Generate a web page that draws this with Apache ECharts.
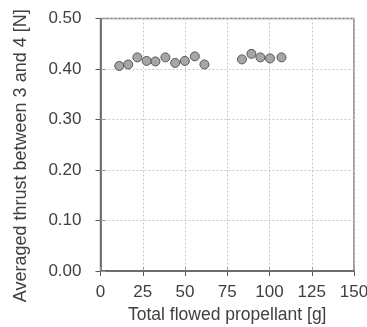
<!DOCTYPE html>
<html>
<head>
<meta charset="utf-8">
<script src="https://cdn.jsdelivr.net/npm/echarts@6/dist/echarts.min.js"></script>
<style>
  html, body { margin: 0; padding: 0; background: #fff; }
  #chart { width: 367px; height: 327px; }
</style>
</head>
<body>
<div id="chart"></div>
<script>
// propellant [g] and averaged thrust [N]
const propellant = [11.1, 16.4, 21.8, 27.3, 32.5, 38.4, 44.2, 49.9, 55.8, 61.5, 83.7, 89.3, 94.6, 100.3, 107.1];
const thrust = [0.406, 0.409, 0.423, 0.416, 0.415, 0.423, 0.412, 0.416, 0.425, 0.409, 0.419, 0.430, 0.423, 0.421, 0.423];
const xTicks = [0, 25, 50, 75, 100, 125, 150];
const yTicks = [0, 0.1, 0.2, 0.3, 0.4, 0.5];

const textColor = '#404040';
const axisColor = '#595959';
const font = 'Liberation Sans, Arial, sans-serif';

var myChart = echarts.init(document.getElementById('chart'));
var pts = propellant.map((x, i) => [x, thrust[i]]);

var option = {
  animation: false,
  grid: {
    left: 100.5,
    right: 13,
    top: 18.5,
    bottom: 56,
    outerBoundsMode: 'none',
    containLabel: false,
    show: true,
    borderColor: '#7f7f7f',
    borderWidth: 1.5
  },
  xAxis: [
    {
      type: 'value',
      min: xTicks[0],
      max: xTicks[xTicks.length - 1],
      interval: 25,
      name: 'Total flowed propellant [g]',
      nameLocation: 'middle',
      nameGap: 35,
      nameTextStyle: { color: textColor, fontSize: 17.5, fontFamily: font },
      axisLine: { lineStyle: { color: axisColor, width: 1.5 } },
      axisTick: { length: 5, lineStyle: { color: axisColor } },
      axisLabel: { color: textColor, fontSize: 17, fontFamily: font, margin: 13 },
      splitLine: { show: true, lineStyle: { color: '#c8c8c8', type: [2, 2], width: 1 } }
    },
    {
      type: 'value',
      position: 'bottom',
      min: xTicks[0],
      max: xTicks[xTicks.length - 1],
      interval: 25,
      axisLine: { show: false },
      axisTick: { inside: true, length: 4, lineStyle: { color: '#9a9a9a' } },
      axisLabel: { show: false },
      splitLine: { show: false }
    }
  ],
  yAxis: [
    {
      type: 'value',
      min: yTicks[0],
      max: yTicks[yTicks.length - 1],
      interval: 0.1,
      name: 'Averaged thrust between 3 and 4 [N]',
      nameLocation: 'middle',
      nameGap: 70,
      // pushes the rotated title a bit lower than the plot centre
      nameTextStyle: { color: textColor, fontSize: 18, fontFamily: font, padding: [0, 22, 0, 0] },
      axisLine: { show: true, lineStyle: { color: axisColor, width: 1.5 } },
      axisTick: { show: true, length: 5, lineStyle: { color: axisColor } },
      axisLabel: {
        color: textColor, fontSize: 17, fontFamily: font, margin: 19,
        formatter: v => v.toFixed(2)
      },
      splitLine: { show: true, lineStyle: { color: '#c8c8c8', type: [2, 2], width: 1 } }
    },
    {
      type: 'value',
      position: 'left',
      min: yTicks[0],
      max: yTicks[yTicks.length - 1],
      interval: 0.1,
      axisLine: { show: false },
      axisTick: { show: true, inside: true, length: 5, lineStyle: { color: '#9a9a9a' } },
      axisLabel: { show: false },
      splitLine: { show: false }
    }
  ],
  series: [
    {
      type: 'scatter',
      xAxisIndex: 0,
      yAxisIndex: 0,
      data: pts,
      symbolSize: 9,
      itemStyle: { color: '#a6a6a6', borderColor: '#555555', borderWidth: 1, opacity: 1 }
    }
  ]
};
myChart.setOption(option);
</script>
</body>
</html>
